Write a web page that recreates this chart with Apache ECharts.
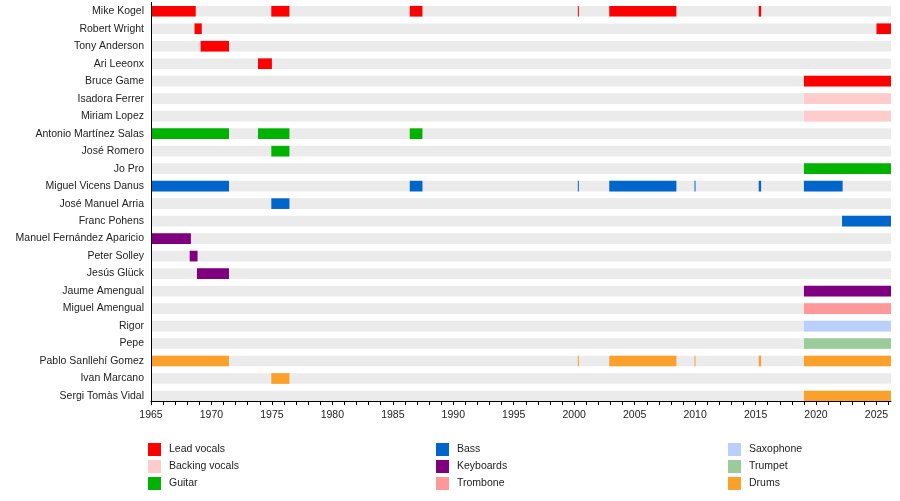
<!DOCTYPE html>
<html>
<head>
    <meta charset="UTF-8">
    <title>Band timeline</title>
    <script src="https://cdn.jsdelivr.net/npm/echarts@6/dist/echarts.min.js"></script>
</head>
<style type="text/css">
    html, body {
        width: 100%;
        height: 100%;
        margin: 0;
        padding: 0;
        background: #fff;
    }
    #main {
        width: 900px;
        height: 501px;
    }
</style>
<body>
    <div id="main"></div>
</body>
<script>
    // members, top to bottom
    var members = [
        'Mike Kogel', 'Robert Wright', 'Tony Anderson', 'Ari Leeonx', 'Bruce Game',
        'Isadora Ferrer', 'Miriam Lopez', 'Antonio Martínez Salas', 'José Romero', 'Jo Pro',
        'Miguel Vicens Danus', 'José Manuel Arria', 'Franc Pohens', 'Manuel Fernández Aparicio',
        'Peter Solley', 'Jesús Glück', 'Jaume Amengual', 'Miguel Amengual', 'Rigor', 'Pepe',
        'Pablo Sanllehí Gomez', 'Ivan Marcano', 'Sergi Tomàs Vidal'
    ];
    var roles = ['Lead vocals', 'Backing vocals', 'Guitar', 'Bass', 'Keyboards',
        'Trombone', 'Saxophone', 'Trumpet', 'Drums'];
    var roleColors = ['#ff0000', '#ffcccc', '#00b300', '#0066cc', '#7f007f',
        '#ff9999', '#b9d1fa', '#99cc99', '#fba02b'];

    var START = 1965;
    var END = 2026.2;

    // [member index, from, to, role index]
    var stints = [
        [0, 1965, 1968.7, 0], [0, 1974.95, 1976.45, 0], [0, 1986.4, 1987.45, 0],
        [0, 2000.3, 2000.38, 0], [0, 2002.9, 2008.45, 0], [0, 2015.26, 2015.46, 0],
        [1, 1968.6, 1969.2, 0], [1, 2025.0, END, 0],
        [2, 1969.1, 1971.45, 0],
        [3, 1973.85, 1975.0, 0],
        [4, 2019, END, 0],
        [5, 2019, END, 1],
        [6, 2019, END, 1],
        [7, 1965, 1971.45, 2], [7, 1973.85, 1976.45, 2], [7, 1986.4, 1987.45, 2],
        [8, 1974.95, 1976.45, 2],
        [9, 2019, END, 2],
        [10, 1965, 1971.45, 3], [10, 1986.4, 1987.45, 3], [10, 2000.3, 2000.38, 3],
        [10, 2002.9, 2008.45, 3], [10, 2009.95, 2010.03, 3], [10, 2015.26, 2015.46, 3],
        [10, 2019, 2022.2, 3],
        [11, 1974.95, 1976.45, 3],
        [12, 2022.15, END, 3],
        [13, 1965, 1968.3, 4],
        [14, 1968.2, 1968.85, 4],
        [15, 1968.8, 1971.45, 4],
        [16, 2019, END, 4],
        [17, 2019, END, 5],
        [18, 2019, END, 6],
        [19, 2019, END, 7],
        [20, 1965, 1971.45, 8], [20, 2000.3, 2000.38, 8], [20, 2002.9, 2008.45, 8],
        [20, 2009.95, 2010.03, 8], [20, 2015.26, 2015.46, 8], [20, 2019, END, 8],
        [21, 1974.95, 1976.45, 8],
        [22, 2019, END, 8]
    ];

    var FONT = 'Liberation Sans, Arial, sans-serif';
    var TEXT = '#222';

    function renderBar(params, api) {
        var row = api.value(0);
        var p0 = api.coord([api.value(1), row]);
        var p1 = api.coord([api.value(2), row]);
        var h = api.size([0, 1])[1] * 0.61;
        return {
            type: 'rect',
            shape: { x: p0[0], y: p0[1] - h / 2, width: Math.max(p1[0] - p0[0], 1), height: h },
            style: { fill: api.visual('color') }
        };
    }

    var series = [{
        type: 'custom',
        name: 'band',
        renderItem: renderBar,
        encode: { x: [1, 2], y: 0 },
        itemStyle: { color: '#ebebeb' },
        silent: true,
        z: 1,
        data: members.map(function (m, i) { return [i, START, END]; })
    }];
    roles.forEach(function (r, k) {
        series.push({
            type: 'custom',
            name: r,
            renderItem: renderBar,
            encode: { x: [1, 2], y: 0 },
            itemStyle: { color: roleColors[k] },
            z: 2,
            data: stints.filter(function (s) { return s[3] === k; })
        });
    });

    function legendCol(names, left) {
        return {
            data: names,
            orient: 'vertical',
            left: left,
            top: 443,
            padding: 0,
            itemWidth: 13,
            itemHeight: 13,
            itemGap: 4,
            icon: 'rect',
            selectedMode: false,
            textStyle: { fontFamily: FONT, fontSize: 10.5, color: TEXT, padding: [0, 0, 0, 3] }
        };
    }

    var myChart = echarts.init(document.getElementById('main'));
    myChart.setOption({
        animation: false,
        grid: { left: 151, right: 9, top: 2.5, bottom: 96.25 },
        legend: [
            legendCol(roles.slice(0, 3), 148),
            legendCol(roles.slice(3, 6), 436),
            legendCol(roles.slice(6, 9), 728)
        ],
        xAxis: {
            type: 'value',
            min: START,
            max: END,
            interval: 1,
            offset: -3.75,
            z: 10,
            axisLine: { show: true, lineStyle: { color: '#000', width: 1 } },
            axisTick: { show: true, length: 4, lineStyle: { color: '#000' } },
            splitLine: { show: false },
            axisLabel: {
                margin: 9,
                fontFamily: FONT,
                fontSize: 10.5,
                color: TEXT,
                showMaxLabel: false,
                formatter: function (v) { return v % 5 === 0 ? String(v) : ''; }
            }
        },
        yAxis: {
            type: 'category',
            data: members,
            inverse: true,
            z: 10,
            axisLine: { show: true, lineStyle: { color: '#000', width: 1 } },
            axisTick: { show: false },
            splitLine: { show: false },
            axisLabel: { margin: 7, fontFamily: FONT, fontSize: 10.5, color: TEXT, interval: 0 }
        },
        series: series
    });
</script>
</html>
